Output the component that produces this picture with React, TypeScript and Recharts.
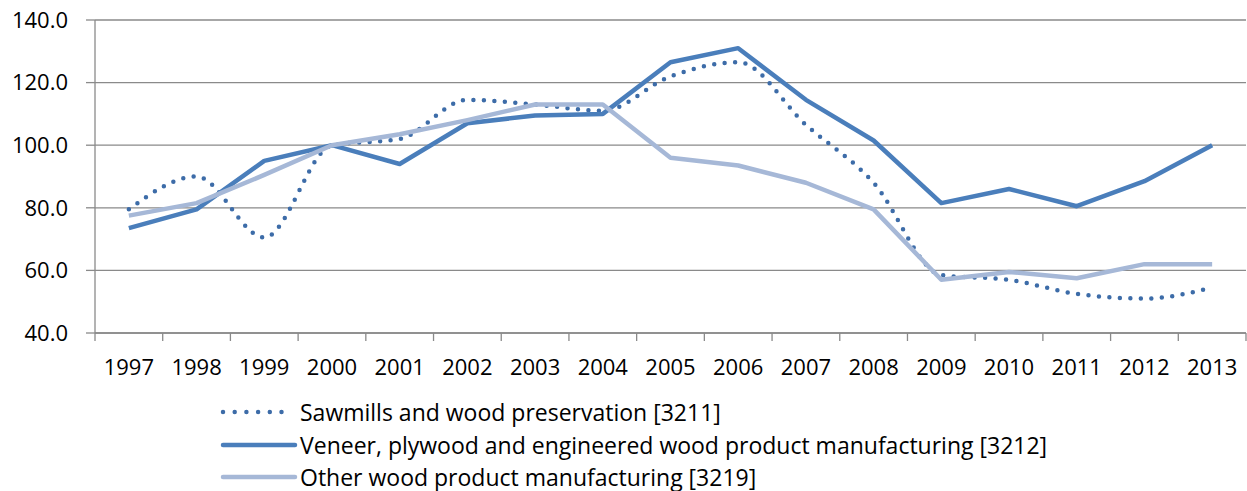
import React from 'react';
import { LineChart, Line, XAxis, YAxis, CartesianGrid, Legend } from 'recharts';

const years = ['1997', '1998', '1999', '2000', '2001', '2002', '2003', '2004', '2005', '2006', '2007', '2008', '2009', '2010', '2011', '2012', '2013'];
const sawmills = [79.5, 90, 70.5, 100, 102, 114.5, 113, 111, 122, 126.5, 106.5, 88, 58.5, 57, 52.5, 51, 54.5];
const veneer = [73.5, 79.5, 95, 100, 94, 107, 109.5, 110, 126.5, 131, 114.5, 101.5, 81.5, 86, 80.5, 88.5, 100];
const other = [77.5, 81.5, 90.5, 100, 103.5, 108, 113, 113, 96, 93.5, 88, 79.5, 57, 59.5, 57.5, 62, 62];
const yTicks = [40, 60, 80, 100, 120, 140];

const seriesNames = [
  'Sawmills and wood preservation [3211]',
  'Veneer, plywood and engineered wood product manufacturing [3212]',
  'Other wood product manufacturing [3219]',
];

const data = years.map((y, i) => ({
  x: i + 0.5,
  year: y,
  sawmills: sawmills[i],
  veneer: veneer[i],
  other: other[i],
}));
const xTicks = data.map((d) => d.x);

const W = 1247;
const H = 491;
const LEFT = 95;
const RIGHT = 1246;
const TOP = 20;
const BOTTOM = 333;
const HALF = (RIGHT - LEFT) / years.length / 2;
const AXIS = '#8a8a8a';
const FONT = '"Open Sans", sans-serif';
const C1 = '#3d6ca8';
const C2 = '#4a7ebb';
const C3 = '#a6b8d7';

const XTick = (props: any) => {
  const { x, y, index } = props;
  const label = years[index];
  return (
    <g>
      <line x1={x - HALF} x2={x - HALF} y1={BOTTOM} y2={BOTTOM + 8} stroke={AXIS} strokeWidth={1.3} />
      {index === years.length - 1 && (
        <line x1={x + HALF} x2={x + HALF} y1={BOTTOM} y2={BOTTOM + 8} stroke={AXIS} strokeWidth={1.3} />
      )}
      <text x={x} y={y} dy="0.71em" textAnchor="middle" fill="#000" fontSize={22} fontFamily={FONT}>
        {label}
      </text>
    </g>
  );
};

const LegendContent = () => {
  const rows = [
    { name: seriesNames[0], color: C1, dash: '0 11.7' },
    { name: seriesNames[1], color: C2, dash: undefined },
    { name: seriesNames[2], color: C3, dash: undefined },
  ];
  const ys = [411.5, 444.5, 476.5];
  return (
    <div style={{ position: 'relative', height: 0, width: W }}>
      {rows.map((r, i) => (
        <div key={i} style={{ position: 'absolute', left: 220, top: ys[i] - 16, height: 32, display: 'flex', alignItems: 'center', whiteSpace: 'nowrap' }}>
          <svg width={78} height={10} style={{ display: 'block' }}>
            <line x1={3} x2={i === 0 ? 70 : 75} y1={5} y2={5} stroke={r.color} strokeWidth={4.5} strokeLinecap="round" strokeDasharray={r.dash} />
          </svg>
          <span style={{ fontFamily: FONT, fontSize: 23, color: '#000', marginLeft: 2, lineHeight: '32px' }}>{r.name}</span>
        </div>
      ))}
    </div>
  );
};

export default function App() {
  return (
    <div style={{ position: 'absolute', left: 0, top: 0, width: W, height: H, background: '#fff', fontFamily: FONT }}>
      <LineChart width={W} height={H} data={data} margin={{ top: TOP, right: W - RIGHT, left: 0, bottom: 0 }}>
        <CartesianGrid vertical={false} stroke={AXIS} strokeWidth={1.3} />
        <XAxis
          dataKey="x"
          type="number"
          domain={[0, years.length]}
          ticks={xTicks}
          interval={0}
          height={H - BOTTOM}
          axisLine={{ stroke: AXIS, strokeWidth: 1.3 }}
          tickLine={false}
          tickSize={8}
          tickMargin={18}
          tick={<XTick />}
          allowDecimals
        />
        <YAxis
          type="number"
          domain={[40, 140]}
          ticks={yTicks}
          interval={0}
          width={LEFT}
          axisLine={{ stroke: AXIS, strokeWidth: 1.3 }}
          tickLine={{ stroke: AXIS, strokeWidth: 1.3 }}
          tickSize={9}
          tickMargin={18}
          tickFormatter={(v: number) => v.toFixed(1)}
          tick={{ fill: '#000', fontSize: 22, fontFamily: FONT }}
        />
        <Legend verticalAlign="bottom" content={<LegendContent />} wrapperStyle={{ left: 0, top: 0, width: W, height: 0 }} />
        <Line dataKey="sawmills" type="monotone" stroke={C1} strokeWidth={4.5} strokeDasharray="0 10.5" strokeLinecap="round" dot={false} activeDot={false} isAnimationActive={false} />
        <Line dataKey="veneer" type="linear" stroke={C2} strokeWidth={4.5} strokeLinejoin="round" dot={false} activeDot={false} isAnimationActive={false} />
        <Line dataKey="other" type="linear" stroke={C3} strokeWidth={4.5} strokeLinejoin="round" dot={false} activeDot={false} isAnimationActive={false} />
      </LineChart>
    </div>
  );
}
